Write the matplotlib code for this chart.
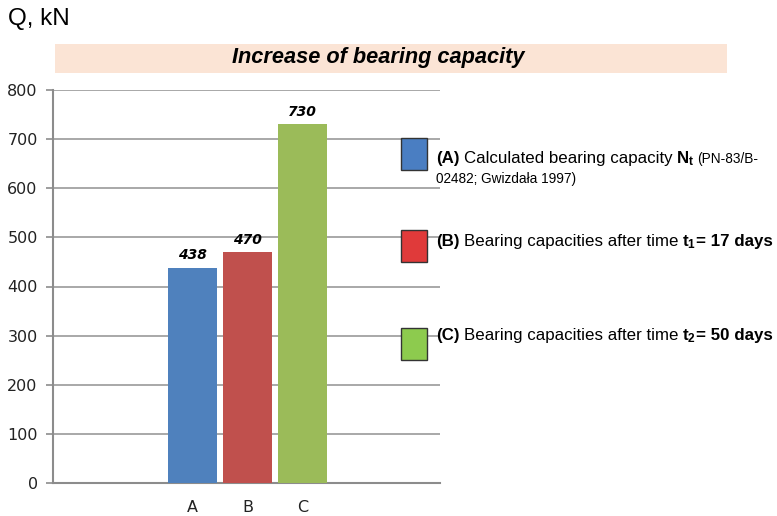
import matplotlib
matplotlib.use("Agg")
import matplotlib.pyplot as plt
from matplotlib.patches import Rectangle

plt.rcParams['mathtext.fontset'] = 'custom'
plt.rcParams['mathtext.rm'] = 'Liberation Sans'
plt.rcParams['mathtext.bf'] = 'Liberation Sans:bold'
plt.rcParams['mathtext.it'] = 'Liberation Sans:italic'

categories = ["A", "B", "C"]
values = [438, 470, 730]
bar_colors = ["#4F81BD", "#C0504D", "#9BBB59"]
legend_colors = ["#4A7EC2", "#E03A3A", "#8DCB4E"]
yticks = [0, 100, 200, 300, 400, 500, 600, 700, 800]
title = "Increase of bearing capacity"
ylabel = "Q, kN"

fig = plt.figure(figsize=(7.77, 5.16), dpi=100)
W, H = 777, 516

def fx(px):
    return px / W

def fy(py):
    return 1 - py / H

ax = fig.add_axes([fx(53), fy(483), fx(440) - fx(53), fy(90) - fy(483)])
xs = list(range(len(categories)))
ax.bar(xs, values, width=0.89, color=bar_colors, zorder=3)
for x, v in zip(xs, values):
    ax.text(x, v + 11, str(v), ha='center', va='bottom', fontsize=10,
            fontweight='bold', fontstyle='italic', family='DejaVu Sans', zorder=4)
ax.set_xlim(-2.54, 4.5)
ax.set_ylim(0, 800)
ax.set_yticks(yticks)
ax.set_yticklabels([str(t) for t in yticks], fontsize=11.5, family='DejaVu Sans', color='#222222')
ax.set_xticks(xs)
ax.set_xticklabels(categories, fontsize=11.5, family='DejaVu Sans', color='#222222')
ax.tick_params(axis='x', length=0, pad=12)
ax.tick_params(axis='y', length=5, color='#8c8c8c', width=1.2, pad=6)
ax.yaxis.grid(True, color='#9a9a9a', linewidth=1.2, zorder=0)
ax.set_axisbelow(True)
for s in ['top', 'right']:
    ax.spines[s].set_visible(False)
for s in ['left', 'bottom']:
    ax.spines[s].set_color('#8c8c8c')
    ax.spines[s].set_linewidth(1.5)

# Title band
fig.patches.append(Rectangle((fx(55), fy(73)), fx(727) - fx(55), fy(44) - fy(73),
                             transform=fig.transFigure, facecolor='#FBE4D5',
                             edgecolor='none', zorder=0))
fig.text(fx(378), fy(58), title, ha='center', va='center', fontsize=15.7,
         fontweight='bold', fontstyle='italic', family='Liberation Sans')
fig.text(fx(8), fy(19), ylabel, ha='left', va='center', fontsize=17.5,
         family='Liberation Sans')

# Legend
renderer = fig.canvas.get_renderer()

def rich(xpx, ypx, pieces):
    x = xpx
    for s, props, gap in pieces:
        t = fig.text(fx(x + gap), fy(ypx), s, ha='left', va='baseline',
                     family='Liberation Sans', **props)
        ext = t.get_window_extent(renderer)
        x = ext.x1

legend_y = [154, 246, 344]
for c, yc in zip(legend_colors, legend_y):
    fig.patches.append(Rectangle((fx(401), fy(yc + 16)), fx(427) - fx(401), fy(yc - 16) - fy(yc + 16),
                                 transform=fig.transFigure, facecolor=c,
                                 edgecolor='#333333', linewidth=1.0, zorder=5))

big = 12.2
small = 9.8
rich(436, 163, [("(A)", dict(fontsize=big, fontweight='bold'), 0),
                ("Calculated bearing capacity", dict(fontsize=big), 4),
                (r"$\mathbf{N_t}$", dict(fontsize=big), 4),
                ("(PN-83/B-", dict(fontsize=small), 3)])
rich(436, 183, [("02482; Gwizdała 1997)", dict(fontsize=small), 0)])
rich(436, 246, [("(B)", dict(fontsize=big, fontweight='bold'), 0),
                ("Bearing capacities after time", dict(fontsize=big), 4),
                (r"$\mathbf{t_1}$", dict(fontsize=big), 4),
                ("= 17 days", dict(fontsize=big, fontweight='bold'), 0)])
rich(436, 340, [("(C)", dict(fontsize=big, fontweight='bold'), 0),
                ("Bearing capacities after time", dict(fontsize=big), 4),
                (r"$\mathbf{t_2}$", dict(fontsize=big), 4),
                ("= 50 days", dict(fontsize=big, fontweight='bold'), 0)])

fig.savefig("out.png", dpi=100)
